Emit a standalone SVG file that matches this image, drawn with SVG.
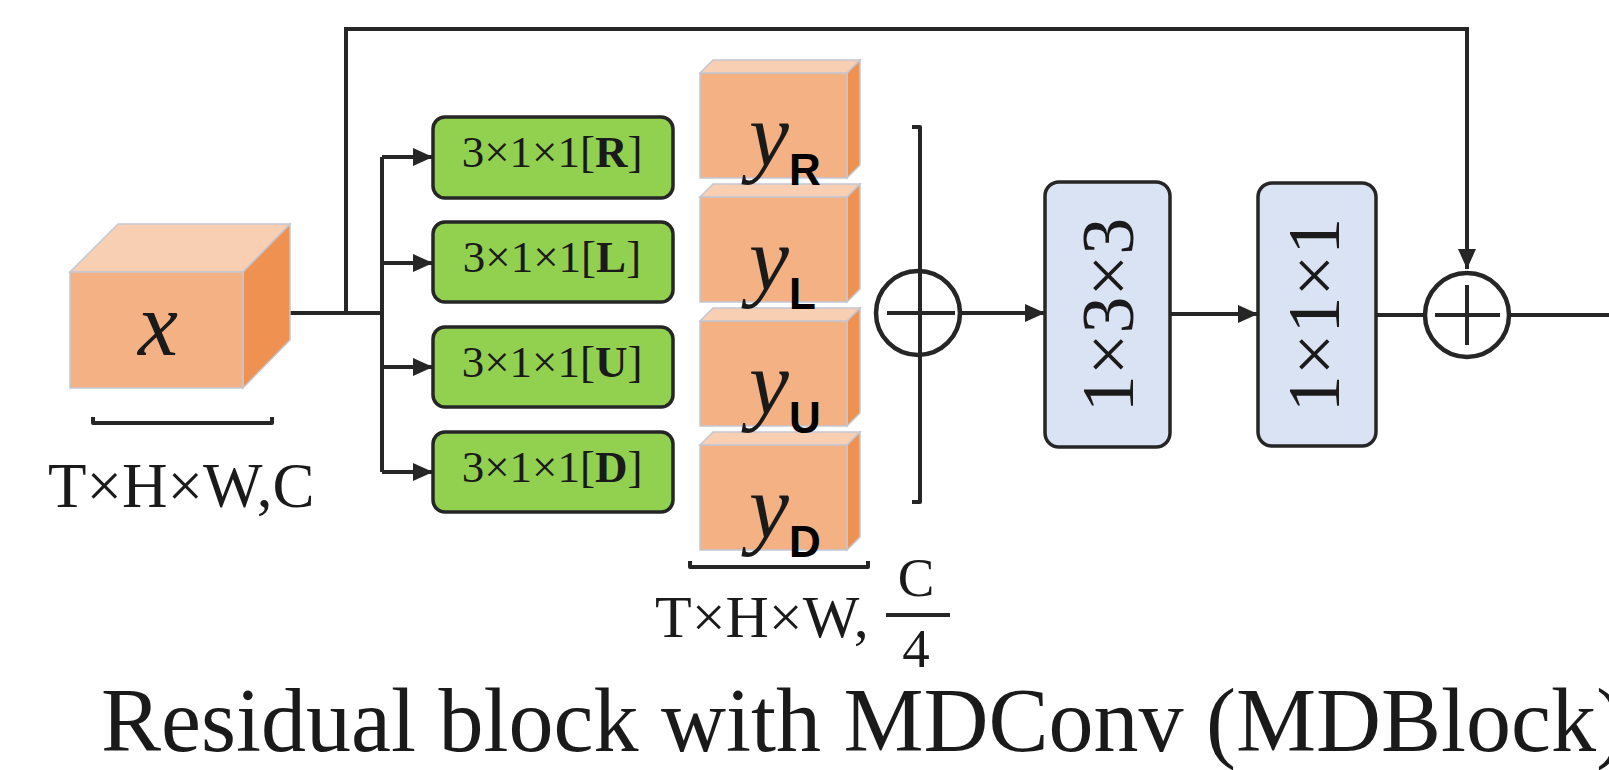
<svg xmlns="http://www.w3.org/2000/svg" width="1609" height="770" viewBox="0 0 1609 770">
<style>
.front{fill:#f4b183;stroke:#c4c8d4;stroke-width:1.5}
.top{fill:#f8cfb2;stroke:#c4c8d4;stroke-width:1.5}
.side{fill:#ef9150;stroke:#c4c8d4;stroke-width:1.5}
.green{fill:#92d050;stroke:#262626;stroke-width:3.5}
.blue{fill:#dae3f3;stroke:#262626;stroke-width:3.5}
.ln{fill:none;stroke:#262626;stroke-width:4;stroke-linejoin:round}
.arr{fill:none;stroke:#262626;stroke-width:4;marker-end:url(#ah)}
.serif{font-family:"Liberation Serif","Times New Roman",serif;fill:#1a1a1a}
.it{font-family:"Liberation Serif","Times New Roman",serif;font-style:italic;fill:#1a1a1a}
.sub{font-family:"Liberation Sans",Arial,sans-serif;font-weight:bold;font-size:44px;fill:#000}
.gt{font-size:45px}
.bt{font-size:74px}
</style>
<defs>
<marker id="ah" markerUnits="userSpaceOnUse" markerWidth="22" markerHeight="20" refX="20" refY="9" orient="auto">
<path d="M0,0 L20,9 L0,18 z" fill="#262626"/>
</marker>
</defs>
<g id="connectors">
<path class="ln" d="M290,313 H382"/>
<path class="ln" d="M382,157 V472"/>
<path class="arr" d="M382,157 H433"/>
<path class="arr" d="M382,263 H433"/>
<path class="arr" d="M382,367 H433"/>
<path class="arr" d="M382,472 H433"/>
<path class="arr" d="M346,313 V29 H1467 V269"/>
<path class="arr" d="M961,313 H1045"/>
<path class="arr" d="M1170,314 H1258"/>
<path class="ln" d="M1376,315 H1424"/>
<path class="ln" d="M1510,315 H1609"/>
</g>
<g id="x-cube">
<polygon class="top" points="70,272 118,224 290,224 243,272"/>
<polygon class="side" points="243,272 290,224 290,340 243,388"/>
<rect class="front" x="70" y="272" width="173" height="116"/>
<text class="it" x="158" y="355" font-size="90" text-anchor="middle">x</text>
</g>
<g id="x-dim">
<path class="ln" d="M93,417 V423 H272 V417" stroke-width="3.5"/>
<text class="serif" x="48" y="507" font-size="63">T×H×W,C</text>
</g>
<g id="conv-R">
<rect class="green" x="433" y="117" width="240" height="81" rx="12"/>
<text class="serif gt" x="552" y="167" text-anchor="middle">3×1×1[<tspan font-weight="bold">R</tspan>]</text>
</g>
<g id="conv-L">
<rect class="green" x="433" y="222" width="240" height="80" rx="12"/>
<text class="serif gt" x="552" y="272" text-anchor="middle">3×1×1[<tspan font-weight="bold">L</tspan>]</text>
</g>
<g id="conv-U">
<rect class="green" x="433" y="327" width="240" height="80" rx="12"/>
<text class="serif gt" x="552" y="377" text-anchor="middle">3×1×1[<tspan font-weight="bold">U</tspan>]</text>
</g>
<g id="conv-D">
<rect class="green" x="433" y="432" width="240" height="80" rx="12"/>
<text class="serif gt" x="552" y="482" text-anchor="middle">3×1×1[<tspan font-weight="bold">D</tspan>]</text>
</g>
<g id="y-D">
<polygon class="top" points="700,445 713,432 860,432 847,445"/>
<polygon class="side" points="847,445 860,432 860,537 847,550"/>
<rect class="front" x="700" y="445" width="147" height="105"/>
<text class="it" x="749" y="538" font-size="90">y</text>
<text class="sub" x="789" y="557">D</text>
</g>
<g id="y-U">
<polygon class="top" points="700,321 713,308 860,308 847,321"/>
<polygon class="side" points="847,321 860,308 860,413 847,426"/>
<rect class="front" x="700" y="321" width="147" height="105"/>
<text class="it" x="749" y="414" font-size="90">y</text>
<text class="sub" x="789" y="433">U</text>
</g>
<g id="y-L">
<polygon class="top" points="700,197 713,184 860,184 847,197"/>
<polygon class="side" points="847,197 860,184 860,289 847,302"/>
<rect class="front" x="700" y="197" width="147" height="105"/>
<text class="it" x="749" y="290" font-size="90">y</text>
<text class="sub" x="789" y="309">L</text>
</g>
<g id="y-R">
<polygon class="top" points="700,73 713,60 860,60 847,73"/>
<polygon class="side" points="847,73 860,60 860,165 847,178"/>
<rect class="front" x="700" y="73" width="147" height="105"/>
<text class="it" x="749" y="166" font-size="90">y</text>
<text class="sub" x="789" y="185">R</text>
</g>
<g id="y-dim">
<path class="ln" d="M690,561 V567 H868 V561" stroke-width="3.5"/>
<text class="serif" x="655" y="637" font-size="60">T×H×W,</text>
<text class="serif" x="916" y="596" font-size="55" text-anchor="middle">C</text>
<path class="ln" d="M886,615 H950" stroke-width="3"/>
<text class="serif" x="916" y="667" font-size="55" text-anchor="middle">4</text>
</g>
<g id="concat-sum">
<path class="ln" d="M912,127 H920 V502 H912" stroke-width="3.5"/>
<circle cx="918" cy="313" r="42" fill="none" stroke="#262626" stroke-width="4.5"/>
<path class="ln" d="M887,313 H955"/>
</g>
<g id="conv-1x3x3">
<rect class="blue" x="1045" y="182" width="125" height="265" rx="14"/>
<text class="serif bt" transform="rotate(-90 1133 315)" x="1133" y="315" text-anchor="middle">1×3×3</text>
</g>
<g id="conv-1x1x1">
<rect class="blue" x="1258" y="183" width="118" height="263" rx="14"/>
<text class="serif bt" transform="rotate(-90 1339 315)" x="1339" y="315" text-anchor="middle">1×1×1</text>
</g>
<g id="residual-sum">
<circle cx="1467" cy="315" r="42" fill="none" stroke="#262626" stroke-width="4.5"/>
<path class="ln" d="M1435,315 H1500 M1467,285 V345"/>
</g>
<g id="title">
<text class="serif" x="101" y="751" font-size="90">Residual block with MDConv (MDBlock)</text>
</g>
</svg>
